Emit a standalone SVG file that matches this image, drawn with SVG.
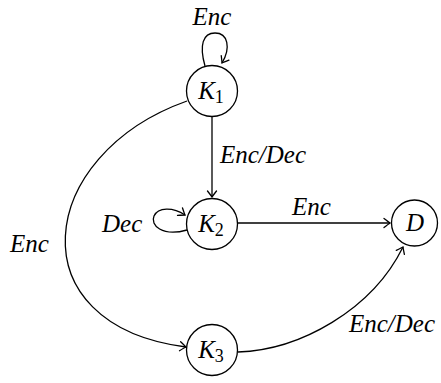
<svg xmlns="http://www.w3.org/2000/svg" width="441" height="383" viewBox="0 0 441 383">
<style>
.node circle{fill:#fff;stroke:#000;stroke-width:1.3}
.nl{font-style:italic;font-size:25px;text-anchor:middle}
.sub{font-style:normal;font-size:18px}
.lbl{font-style:italic;font-size:25px}
#edges path{fill:none;stroke:#000;stroke-width:1.3;marker-end:url(#arr)}
</style>
<defs>
<marker id="arr" markerUnits="userSpaceOnUse" markerWidth="14" markerHeight="14" viewBox="-8 -7 10 14" refX="0" refY="0" orient="auto">
<path d="M -6 -4.5 Q -1.5 -1 0 0 Q -1.5 1 -6 4.5" fill="none" stroke="#000" stroke-width="1.3" stroke-linecap="round"/>
</marker>
</defs>
<g id="edges">
<path d="M 205 66 C 199 45, 203 33, 215 33 C 228 33, 231 48, 222 63"/>
<path d="M 212 117 L 212 197"/>
<path d="M 187 230 C 162 237, 150 225, 154 216 C 158 207, 173 207, 185 215"/>
<path d="M 238 223 L 390 223"/>
<path d="M 187 101 C 35 155, 15 325, 186 347"/>
<path d="M 238 352 C 300 350, 372 310, 403 247"/>
</g>
<g font-family="Liberation Serif, serif">
<g id="K1" class="node"><circle cx="212" cy="91" r="25.5"/><text class="nl" x="211" y="99">K<tspan class="sub" dy="4">1</tspan></text></g>
<g id="K2" class="node"><circle cx="212" cy="224" r="25.5"/><text class="nl" x="211" y="232">K<tspan class="sub" dy="4">2</tspan></text></g>
<g id="K3" class="node"><circle cx="212" cy="350" r="25.5"/><text class="nl" x="211" y="358">K<tspan class="sub" dy="4">3</tspan></text></g>
<g id="D" class="node"><circle cx="414.5" cy="223" r="23"/><text class="nl" x="415" y="231">D</text></g>
<g id="labels">
<text class="lbl" x="212" y="25" text-anchor="middle">Enc</text>
<text class="lbl" x="220" y="163">Enc/Dec</text>
<text class="lbl" x="102" y="232">Dec</text>
<text class="lbl" x="10" y="252">Enc</text>
<text class="lbl" x="292" y="215">Enc</text>
<text class="lbl" x="349" y="332">Enc/Dec</text>
</g>
</g>
</svg>
